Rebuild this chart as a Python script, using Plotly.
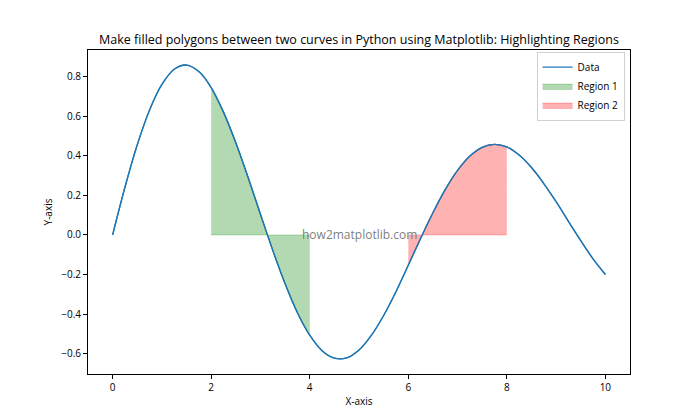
import plotly.graph_objects as go

x_vals = [0.0, 0.25, 0.5, 0.75, 1.0, 1.25, 1.5, 1.75, 2.0, 2.25, 2.5, 2.75, 3.0, 3.25, 3.5,
          3.75, 4.0, 4.25, 4.5, 4.75, 5.0, 5.25, 5.5, 5.75, 6.0, 6.25, 6.5, 6.75, 7.0, 7.25,
          7.5, 7.75, 8.0, 8.25, 8.5, 8.75, 9.0, 9.25, 9.5, 9.75, 10.0]
y_vals = [0.0, 0.241, 0.456, 0.632, 0.761, 0.838, 0.859, 0.826, 0.745, 0.621, 0.466, 0.290,
          0.105, -0.078, -0.247, -0.393, -0.507, -0.585, -0.623, -0.622, -0.582, -0.508,
          -0.407, -0.287, -0.153, -0.018, 0.112, 0.229, 0.326, 0.399, 0.443, 0.458, 0.445,
          0.404, 0.341, 0.260, 0.168, 0.069, -0.029, -0.121, -0.200]

region1 = (2.0, 4.0)
region2 = (6.0, 8.0)

title = "Make filled polygons between two curves in Python using Matplotlib: Highlighting Regions"
FONT = "Open Sans"


def region_points(lo, hi):
    xs = [x for x in x_vals if lo <= x <= hi]
    ys = [y for x, y in zip(x_vals, y_vals) if lo <= x <= hi]
    return xs, ys


fig = go.Figure()

fig.add_trace(go.Scatter(x=x_vals, y=y_vals, mode="lines", name="Data",
                         line=dict(color="#1f77b4", width=1.3, shape="spline")))

for name, reg, fc in [("Region 1", region1, "rgba(0,128,0,0.3)"),
                      ("Region 2", region2, "rgba(255,0,0,0.3)")]:
    xs, ys = region_points(*reg)
    fig.add_trace(go.Scatter(x=xs, y=[0.0] * len(xs), mode="lines", showlegend=False,
                             hoverinfo="skip", line=dict(color=fc, width=0.8)))
    fig.add_trace(go.Scatter(x=xs, y=ys, mode="lines", name=name, fill="tonexty",
                             fillcolor=fc, line=dict(color=fc, width=0.8, shape="spline")))

# redraw the data line on top
fig.add_trace(go.Scatter(x=x_vals, y=y_vals, mode="lines", showlegend=False, hoverinfo="skip",
                         line=dict(color="#1f77b4", width=1.3, shape="spline")))

fig.add_annotation(x=5, y=0, xref="x", yref="y", text="how2matplotlib.com", showarrow=False,
                   font=dict(family=FONT, size=12, color="rgba(110,110,110,0.9)"))

axis_common = dict(showgrid=False, zeroline=False, showline=True, linecolor="black",
                   linewidth=1, mirror=True, ticks="outside", ticklen=4, tickcolor="black",
                   tickfont=dict(family=FONT, size=10, color="black"))

fig.update_layout(
    width=700, height=420,
    margin=dict(l=88, r=70, t=50, b=46),
    paper_bgcolor="white", plot_bgcolor="white",
    title=dict(text=title, x=0.5, xanchor="center", y=0.905, yanchor="middle",
               xref="paper", font=dict(family=FONT, size=12.5, color="black")),
    xaxis=dict(range=[-0.5, 10.5], tickvals=[0, 2, 4, 6, 8, 10],
               title=dict(text="X-axis", font=dict(family=FONT, size=10, color="black"), standoff=4),
               **axis_common),
    yaxis=dict(range=[-0.703, 0.935], tickvals=[-0.6, -0.4, -0.2, 0.0, 0.2, 0.4, 0.6, 0.8],
               tickformat=".1f",
               title=dict(text="Y-axis", font=dict(family=FONT, size=10, color="black"), standoff=6),
               **axis_common),
    legend=dict(x=0.99, y=0.995, xanchor="right", yanchor="top", bgcolor="white",
                bordercolor="#d0d0d0", borderwidth=1,
                font=dict(family=FONT, size=10, color="black"),
                tracegroupgap=0, itemwidth=30, traceorder="normal"),
    showlegend=True,
)

fig.write_html("out.html")
